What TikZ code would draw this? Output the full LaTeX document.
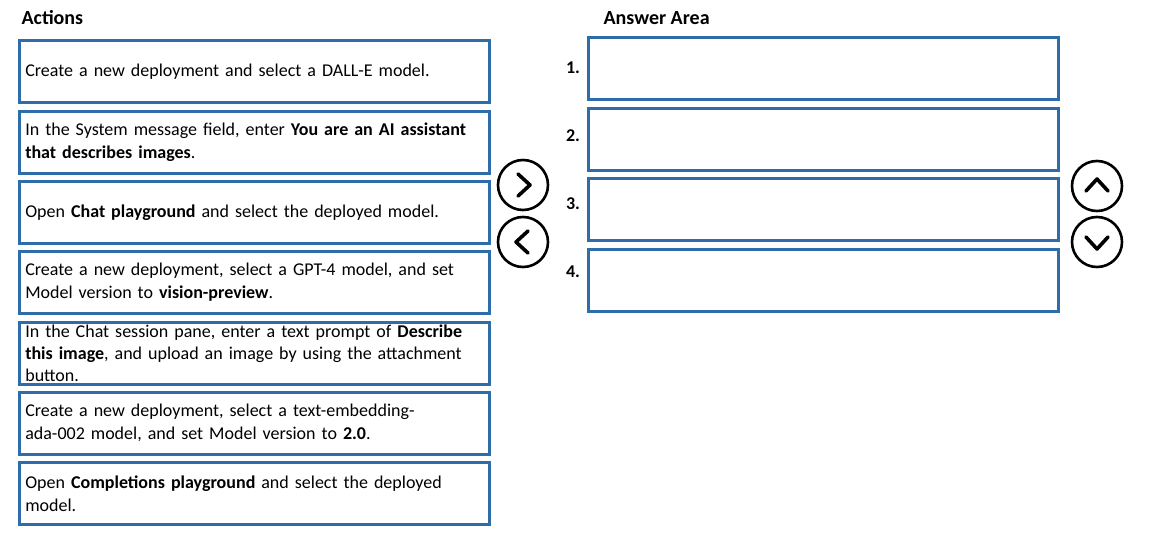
\documentclass[tikz,border=0pt]{standalone}
\usepackage{fontspec}
\setmainfont{Carlito}
\usetikzlibrary{positioning}
\definecolor{boxblue}{RGB}{46,109,170}

\begin{document}
\begin{tikzpicture}[
  x=1pt, y=-1pt,
  every node/.style={font=\fontsize{18}{23}\selectfont},
  actbox/.style={rectangle, draw=boxblue, line width=2.6pt, anchor=north west, minimum width=470pt, minimum height=62pt, text width=458pt, inner xsep=6pt, inner ysep=0pt, align=left},
  ansbox/.style={rectangle, draw=boxblue, line width=2.6pt, anchor=north west, minimum width=470pt, minimum height=62pt, inner sep=0pt},
  numlbl/.style={font=\fontsize{18}{20}\selectfont\bfseries},
  headlbl/.style={font=\fontsize{20}{22}\selectfont\bfseries, anchor=west},
  btn/.style={circle, draw=black, line width=2.6pt, minimum size=50pt, inner sep=0pt},
  chev/.style={draw=black, line width=3.6pt, line cap=round, line join=round},
]

% Background
\fill[white] (0,0) rectangle (1149,543);

% Headings
\node[headlbl] (acthead) at (18,18) {Actions};
\node[headlbl] (anshead) at (600,18) {Answer Area};

% Actions
\node[actbox] (a1) at (18,39) {Create a new deployment and select a DALL-E model.};
\node[actbox] (a2) at (18,110) {In the System message field, enter \textbf{You are an AI assistant}\\\textbf{that describes images}.};
\node[actbox] (a3) at (18,180) {Open \textbf{Chat playground} and select the deployed model.};
\node[actbox] (a4) at (18,250) {Create a new deployment, select a GPT-4 model, and set\\Model version to \textbf{vision-preview}.};
\node[actbox, font=\fontsize{18}{22}\selectfont] (a5) at (18,321) {In the Chat session pane, enter a text prompt of \textbf{Describe}\\\textbf{this image}, and upload an image by using the attachment\\button.};
\node[actbox] (a6) at (18,391) {Create a new deployment, select a text-embedding-\\ada-002 model, and set Model version to \textbf{2.0}.};
\node[actbox] (a7) at (18,461) {Open \textbf{Completions playground} and select the deployed\\model.};

% Answer area
\node[ansbox] (s1) at (587,36) {};
\node[ansbox] (s2) at (587,107) {};
\node[ansbox] (s3) at (587,177) {};
\node[ansbox] (s4) at (587,248) {};
\node[numlbl] (n1) at (573,68) {1.};
\node[numlbl] (n2) at (573,136) {2.};
\node[numlbl] (n3) at (573,204) {3.};
\node[numlbl] (n4) at (573,272) {4.};

% Buttons
\node[btn] (mvright) at (523,185) {};
\node[btn] (mvleft) at (523,242) {};
\node[btn] (mvup) at (1097,186) {};
\node[btn] (mvdown) at (1097,242) {};

\draw[chev] ([shift={(-5,-11)}]mvright.center) -- ([shift={(7,0)}]mvright.center) -- ([shift={(-5,11)}]mvright.center);
\draw[chev] ([shift={(5,-11)}]mvleft.center) -- ([shift={(-7,0)}]mvleft.center) -- ([shift={(5,11)}]mvleft.center);
\draw[chev] ([shift={(-11,5)}]mvup.center) -- ([shift={(0,-7)}]mvup.center) -- ([shift={(11,5)}]mvup.center);
\draw[chev] ([shift={(-11,-5)}]mvdown.center) -- ([shift={(0,7)}]mvdown.center) -- ([shift={(11,-5)}]mvdown.center);

\end{tikzpicture}
\end{document}
